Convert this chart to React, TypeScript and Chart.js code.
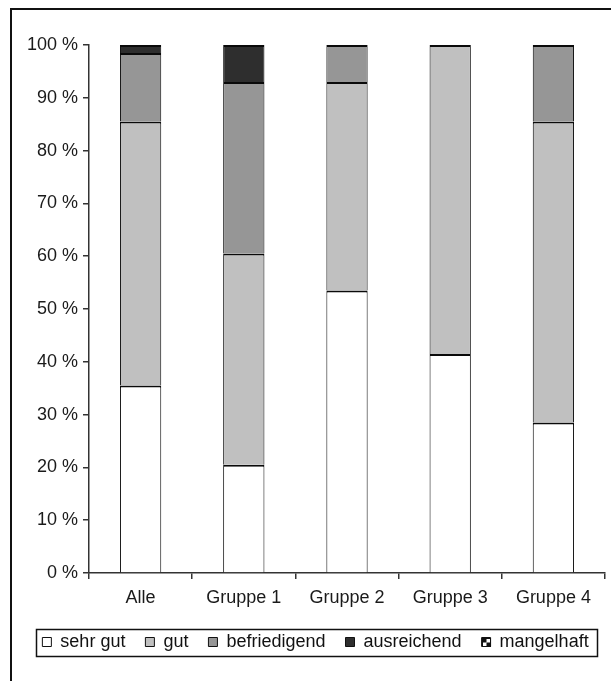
import React, { useEffect, useRef } from "react";
import { Chart, registerables } from "chart.js";

Chart.register(...registerables);

const categories = ["Alle", "Gruppe 1", "Gruppe 2", "Gruppe 3", "Gruppe 4"];
const seriesNames = ["sehr gut", "gut", "befriedigend", "ausreichend", "mangelhaft"];
const sehrGut = [35.5, 20.5, 53.5, 41.5, 28.5];
const gut = [50, 40, 39.5, 58.5, 57];
const befriedigend = [13, 32.5, 7, 0, 14.5];
const ausreichend = [1.5, 7, 0, 0, 0];
const mangelhaft = [0, 0, 0, 0, 0];
const seriesColors = ["#ffffff", "#c0c0c0", "#969696", "#2e2e2e", "#ffffff"];

const FONT = "'Liberation Sans', Arial, sans-serif";

const legendFramePlugin = {
  id: "legendFrame",
  afterDraw(chart: any) {
    const lg = chart.legend;
    if (!lg || !lg.legendHitBoxes || !lg.legendHitBoxes.length) return;
    const hb = lg.legendHitBoxes;
    const ctx = chart.ctx;
    const left = Math.min(...hb.map((b: any) => b.left)) - 6;
    const last = hb[hb.length - 1];
    const right = last.left + last.width + 9;
    const cy = hb[0].top + hb[0].height / 2;
    ctx.save();
    ctx.strokeStyle = "#111";
    ctx.lineWidth = 1.5;
    ctx.strokeRect(Math.round(left) + 0.5, Math.round(cy - 13.5) + 0.5, Math.round(right - left), 27);
    // checkered icon for "mangelhaft"
    const b = hb[4];
    const bx = Math.round(b.left);
    const by = Math.round(b.top + b.height / 2 - 4.5);
    ctx.fillStyle = "#fff";
    ctx.fillRect(bx, by, 9, 9);
    ctx.fillStyle = "#111";
    ctx.fillRect(bx, by, 4.5, 4.5);
    ctx.fillRect(bx + 4.5, by + 4.5, 4.5, 4.5);
    ctx.strokeStyle = "#111";
    ctx.lineWidth = 1;
    ctx.strokeRect(bx + 0.5, by + 0.5, 8, 8);
    ctx.restore();
  },
};

export default function App() {
  const ref = useRef<HTMLCanvasElement | null>(null);

  useEffect(() => {
    if (!ref.current) return;
    const values = [sehrGut, gut, befriedigend, ausreichend, mangelhaft];
    const chart = new Chart(ref.current, {
      type: "bar",
      data: {
        labels: categories,
        datasets: seriesNames.map((name, i) => ({
          label: name,
          data: values[i],
          backgroundColor: seriesColors[i],
          borderColor: "#0a0a0a",
          borderWidth: { top: 2, bottom: 0, left: 1, right: 1 },
          borderSkipped: "bottom",
          inflateAmount: 0,
          categoryPercentage: 1,
          barPercentage: 0.4,
        })),
      },
      options: {
        animation: false,
        responsive: false,
        devicePixelRatio: 1,
        layout: { padding: { left: 26, right: 6, top: 45, bottom: 20 } },
        plugins: {
          tooltip: { enabled: false },
          legend: {
            position: "bottom",
            labels: {
              boxWidth: 9,
              boxHeight: 9,
              padding: 10,
              color: "#111",
              font: { family: FONT, size: 18 },
              generateLabels: (chart: any) => {
                const items = Chart.defaults.plugins.legend.labels.generateLabels(chart);
                return items.map((it: any, i: number) => ({
                  ...it,
                  lineWidth: 1,
                  strokeStyle: "#111",
                  text: i < items.length - 1 ? it.text + "  " : it.text,
                }));
              },
            },
          },
        },
        scales: {
          x: {
            stacked: true,
            afterFit: (s: any) => {
              s.height = 50;
            },
            border: { display: true, color: "#333", width: 1.5 },
            grid: {
              display: true,
              offset: true,
              drawOnChartArea: false,
              drawTicks: true,
              tickLength: 6,
              color: "#333",
              lineWidth: 1.5,
            },
            ticks: {
              color: "#1a1a1a",
              padding: 8,
              font: { family: FONT, size: 18 },
            },
          },
          y: {
            stacked: true,
            min: 0,
            max: 100,
            afterFit: (s: any) => {
              s.width = 63;
            },
            border: { display: true, color: "#333", width: 1.5 },
            grid: {
              display: true,
              drawOnChartArea: false,
              drawTicks: true,
              tickLength: 6,
              color: "#333",
              lineWidth: 1.5,
            },
            ticks: {
              stepSize: 10,
              color: "#1a1a1a",
              padding: 5,
              font: { family: FONT, size: 18 },
              callback: (v: any) => v + " %",
            },
          },
        },
      },
      plugins: [legendFramePlugin],
    });
    return () => chart.destroy();
  }, []);

  return (
    <div
      style={{
        position: "fixed",
        left: 0,
        top: 0,
        width: 611,
        height: 681,
        background: "#fff",
        overflow: "hidden",
      }}
    >
      <canvas ref={ref} width={611} height={681} style={{ position: "absolute", left: 0, top: 0 }} />
      <div
        style={{
          position: "absolute",
          left: 10,
          top: 8,
          width: 700,
          height: 700,
          borderLeft: "2px solid #111",
          borderTop: "2px solid #111",
          pointerEvents: "none",
        }}
      />
    </div>
  );
}
